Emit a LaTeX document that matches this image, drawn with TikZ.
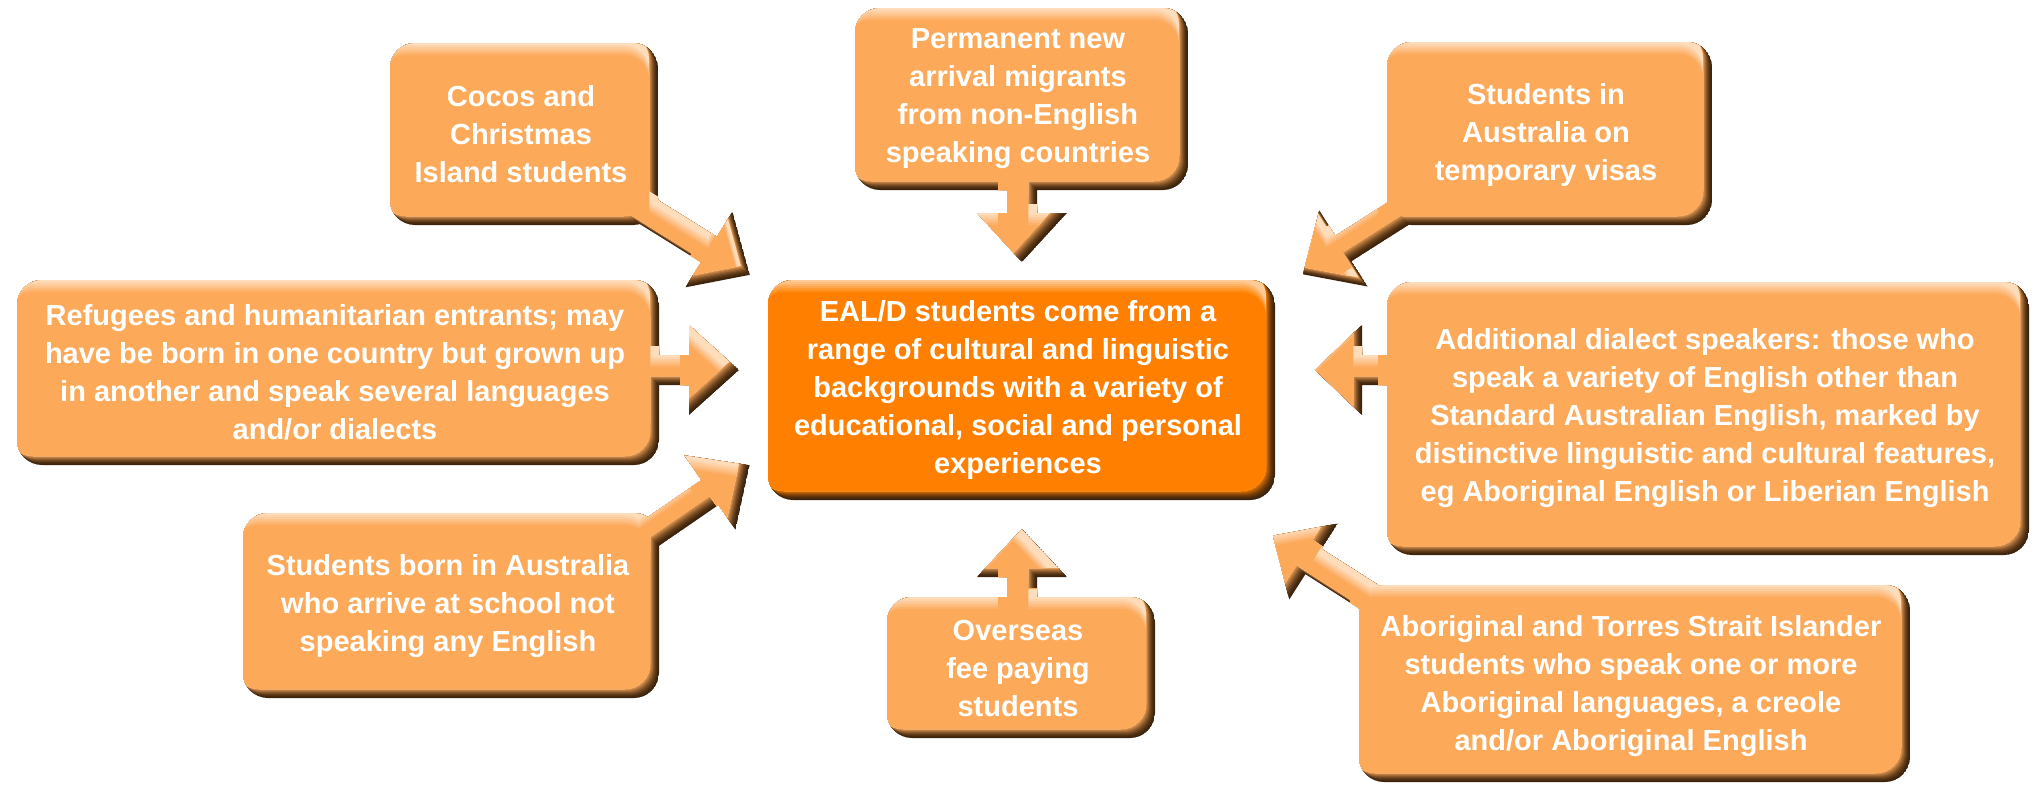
\documentclass[tikz,border=0pt]{standalone}
\usepackage{fontspec}
\setmainfont{Liberation Sans}
\definecolor{lor}{RGB}{252,169,90}
\definecolor{cor}{RGB}{255,128,0}
\definecolor{shd}{RGB}{62,36,12}
\tikzset{lbl/.style={text=white, font=\bfseries\fontsize{14.5}{19}\selectfont, align=center, inner sep=0pt}}
\newcommand\bevel[2]{%
\begin{scope}
\colorlet{hlc}{#2!40!white}
\clip #1;
\fill[shd] #1;
\foreach \k in {1,...,9}{\pgfmathsetmacro\pc{100*(\k/9)^1.6}\fill[#2!\pc!shd, shift={(-\k,-\k)}] #1;}
\begin{scope}
\clip[shift={(-9,-9)}] #1;
\fill[hlc] #1;
\foreach \k in {1,...,6}{\pgfmathsetmacro\pc{\k*100/6}\fill[#2!\pc!hlc, shift={(-9,{2*\k})}] #1;}
\end{scope}
\end{scope}}
\def\pCocos{(524,43) [rounded corners=12.5pt] -- (658,43) -- (658,225) -- (390,225) -- (390,43) -- cycle [sharp corners] (614.9,173.3) -- (716.9,236.8) -- (732.5,211.7) -- (749.8,274.8) -- (685.5,287.3) -- (701.1,262.2) -- (599.1,198.7) -- cycle}
\def\pPerm{(1021,8) [rounded corners=12.5pt] -- (1188,8) -- (1188,190) -- (855,190) -- (855,8) -- cycle [sharp corners] (1037,150) -- (1037,213) -- (1067,213) -- (1022,262) -- (977,213) -- (1007,213) -- (1007,150) -- cycle}
\def\pTemp{(1549,42) [rounded corners=12.5pt] -- (1712,42) -- (1712,225) -- (1387,225) -- (1387,42) -- cycle [sharp corners] (1461.3,191.4) -- (1351.6,261.2) -- (1367.7,286.5) -- (1303,274.3) -- (1319.3,210.5) -- (1335.4,235.8) -- (1445.1,166.0) -- cycle}
\def\pRefu{(338,280) [rounded corners=12.5pt] -- (659,280) -- (659,465) -- (17,465) -- (17,280) -- cycle [sharp corners] (600,355) -- (689,355) -- (689,325) -- (739,370) -- (689,415) -- (689,385) -- (600,385) -- cycle}
\def\pCenter{(1021,280) [rounded corners=12.5pt] -- (1275,280) -- (1275,500) -- (768,500) -- (768,280) -- cycle}
\def\pAddl{(1708,282) [rounded corners=12.5pt] -- (2029,282) -- (2029,555) -- (1387,555) -- (1387,282) -- cycle [sharp corners] (1450,385) -- (1362,385) -- (1362,415) -- (1315,370) -- (1362,325) -- (1362,355) -- (1450,355) -- cycle}
\def\pBorn{(451,513) [rounded corners=12.5pt] -- (659,513) -- (659,698) -- (243,698) -- (243,513) -- cycle [sharp corners] (586.1,559.5) -- (701.5,480.1) -- (684.5,455.4) -- (749.6,465.3) -- (735.5,529.6) -- (718.5,504.9) -- (603.1,584.3) -- cycle}
\def\pOver{(1021,597) [rounded corners=12.5pt] -- (1155,597) -- (1155,738) -- (887,738) -- (887,597) -- cycle [sharp corners] (1007,650) -- (1007,577) -- (977,577) -- (1022,529) -- (1067,577) -- (1037,577) -- (1037,650) -- cycle}
\def\pAbor{(1634,585) [rounded corners=12.5pt] -- (1910,585) -- (1910,782) -- (1359,782) -- (1359,585) -- cycle [sharp corners] (1415,644) -- (1305.4,574.1) -- (1289.3,599.4) -- (1273,535.7) -- (1337.7,523.6) -- (1321.6,548.9) -- (1431.2,618.8) -- cycle}
\begin{document}
\begin{tikzpicture}[x={(0.5pt,0)}, y={(0,-0.5pt)}]
\fill[white] (0,0) rectangle (2038,784);
\useasboundingbox (0,0) rectangle (2038,784);
\bevel{\pCocos}{lor}
\bevel{\pPerm}{lor}
\bevel{\pTemp}{lor}
\bevel{\pRefu}{lor}
\bevel{\pCenter}{cor}
\bevel{\pAddl}{lor}
\bevel{\pBorn}{lor}
\bevel{\pOver}{lor}
\bevel{\pAbor}{lor}
\node[lbl] (cocos) at (521,134) {Cocos and\\Christmas\\Island students};
\node[lbl] (perm) at (1018,99) {Permanent new\\arrival migrants\\from non-English\\speaking countries};
\node[lbl] (temp) at (1546,135) {Students in\\Australia on\\temporary visas};
\node[lbl] (refu) at (335,372) {Refugees and humanitarian entrants; may\\have be born in one country but grown up\\in another and speak several languages\\and/or dialects};
\node[lbl] (center) at (1018,390) {EAL/D students come from a\\range of cultural and linguistic\\backgrounds with a variety of\\educational, social and personal\\experiences};
\node[lbl] (addl) at (1705,418) {Additional dialect speakers: those who\\speak a variety of English other than\\Standard Australian English, marked by\\distinctive linguistic and cultural features,\\eg Aboriginal English or Liberian English};
\node[lbl] (born) at (448,606) {Students born in Australia\\who arrive at school not\\speaking any English};
\node[lbl] (over) at (1018,668) {Overseas\\fee paying\\students};
\node[lbl] (abor) at (1631,686) {Aboriginal and Torres Strait Islander\\students who speak one or more\\Aboriginal languages, a creole\\and/or Aboriginal English};
\end{tikzpicture}
\end{document}
